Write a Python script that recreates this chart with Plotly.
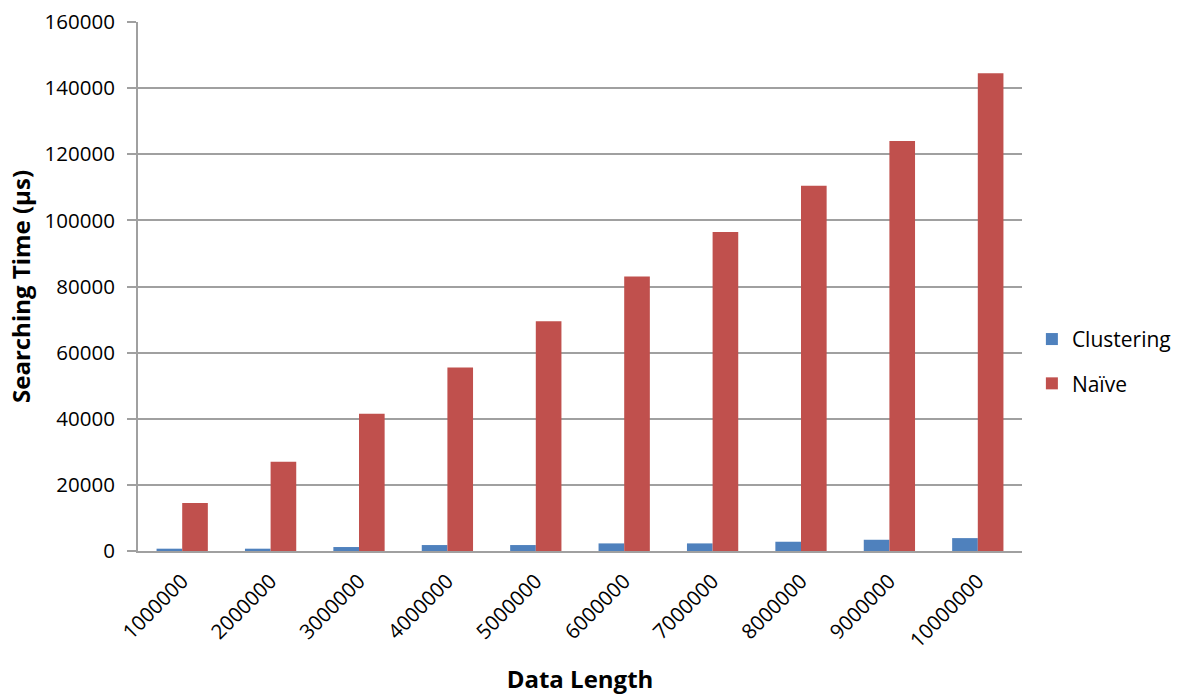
import plotly.graph_objects as go

# Data lengths on the x axis and measured search times (microseconds)
data_length = ["1000000", "2000000", "3000000", "4000000", "5000000",
               "6000000", "7000000", "8000000", "9000000", "10000000"]
clustering = [700, 700, 1200, 1800, 1800, 2300, 2300, 2800, 3400, 3900]
naive = [14500, 27000, 41500, 55500, 69500, 83000, 96500, 110500, 124000, 144500]

font_family = "'Open Sans', Lato, sans-serif"

fig = go.Figure()
fig.add_trace(go.Bar(x=data_length, y=clustering, name="Clustering",
                     legendgroup="c",
                     marker=dict(color="#4f81bd", line=dict(width=0))))
fig.add_trace(go.Bar(x=data_length, y=naive, name="Naïve",
                     legendgroup="n",
                     marker=dict(color="#c0504d", line=dict(width=0))))

fig.update_layout(
    width=1182, height=695,
    margin=dict(l=138, r=160, t=22, b=144),
    paper_bgcolor="white", plot_bgcolor="white",
    barmode="group", bargap=0.42, bargroupgap=0,
    font=dict(family=font_family, size=20.5, color="#000000"),
    legend=dict(xref="container", yref="container",
                x=0.873, y=0.48, xanchor="left", yanchor="middle",
                font=dict(size=21), tracegroupgap=14, itemwidth=30,
                traceorder="grouped", bgcolor="rgba(0,0,0,0)"),
    showlegend=True,
)

fig.update_xaxes(
    type="category", tickangle=-45, automargin=False,
    showline=True, linecolor="#a0a0a0", linewidth=2,
    showgrid=False, ticks="", tickfont=dict(size=20.5),
    ticklabelstandoff=8,
    title=dict(text="<b>Data Length</b>", font=dict(size=24), standoff=22),
)
fig.update_yaxes(
    range=[0, 160000], dtick=20000, tickformat="d", automargin=False,
    showline=True, linecolor="#a0a0a0", linewidth=2,
    showgrid=True, gridcolor="#a0a0a0", gridwidth=1.5,
    ticks="outside", ticklen=9, tickcolor="#a0a0a0", tickwidth=1.5,
    ticklabelstandoff=8,
    tickfont=dict(size=20.5), zeroline=False,
    title=dict(text="<b>Searching Time (µs)</b>", font=dict(size=24), standoff=7),
)

fig.write_html("out.html")
